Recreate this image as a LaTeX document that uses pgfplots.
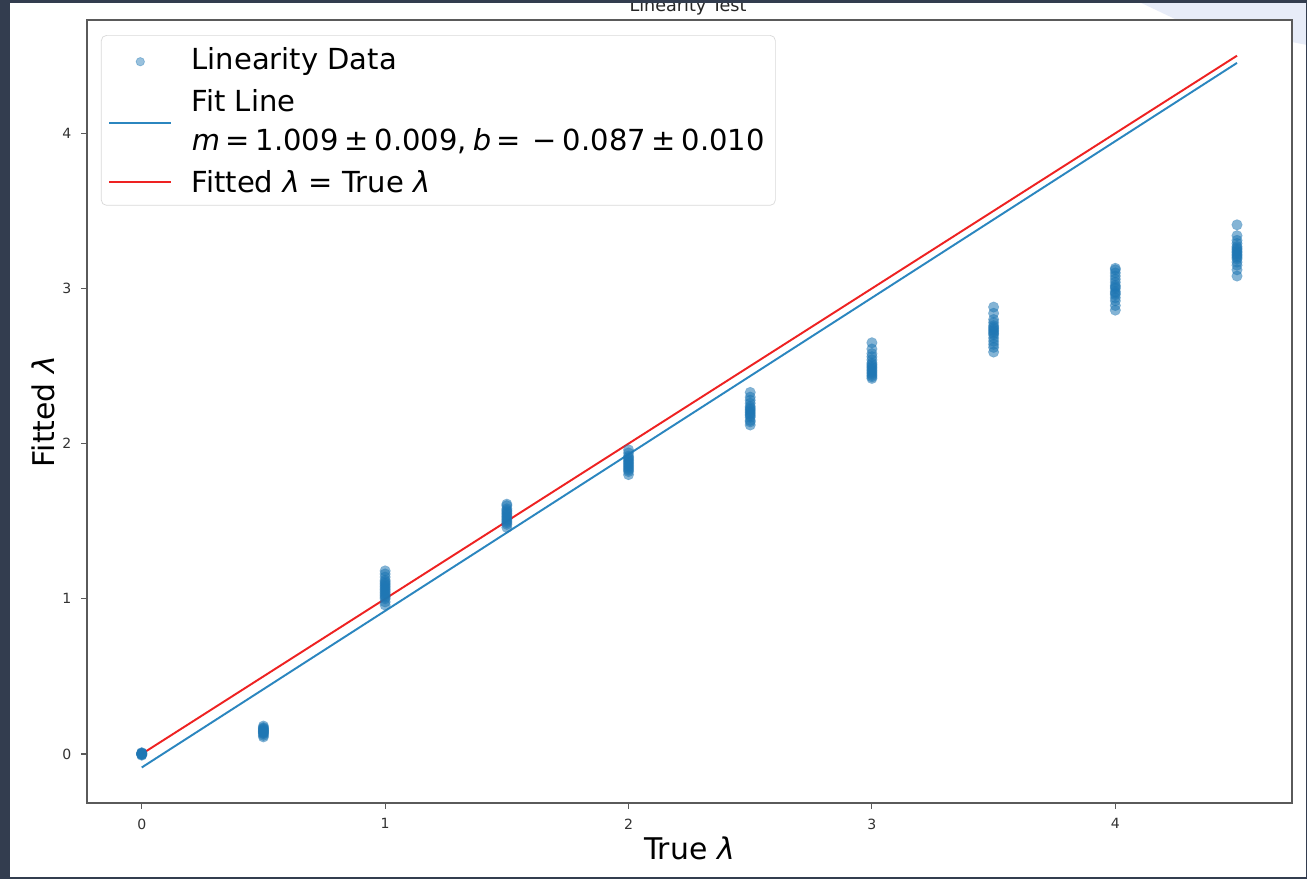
\documentclass[border=0pt]{standalone}
\usepackage{fontspec}
\setmainfont{DejaVu Sans}
\usepackage{pgfplots}
\pgfplotsset{compat=1.18}
\definecolor{frame}{HTML}{333D4F}
\definecolor{paleblue}{HTML}{E7ECF8}
\definecolor{pointblue}{HTML}{1F77B4}
\definecolor{fitblue}{HTML}{2B86BF}
\definecolor{ideal}{HTML}{EE2222}
\definecolor{spine}{HTML}{5A5A5A}
\newcommand\ms{\hspace{0.2em}}

\pgfplotsset{
  longline legend/.style={legend image code/.code={\draw[##1] (0cm,0cm) -- (1.24cm,0cm);}},
  dot legend/.style={legend image code/.code={\draw[##1] plot coordinates {(0.62cm,0cm)};}},
}

% fitted lambda for each true lambda
\pgfplotstableread{
x y
0 0.000
0 0.004
0 -0.004
0 0.008
0 -0.008
0 0.002
0 -0.002
0 0.006
0.5 0.11
0.5 0.12
0.5 0.13
0.5 0.135
0.5 0.14
0.5 0.145
0.5 0.15
0.5 0.155
0.5 0.16
0.5 0.165
0.5 0.17
0.5 0.18
1 0.96
1 0.98
1 1.00
1 1.01
1 1.02
1 1.03
1 1.04
1 1.05
1 1.06
1 1.07
1 1.08
1 1.09
1 1.10
1 1.11
1 1.12
1 1.14
1 1.16
1 1.18
1.5 1.46
1.5 1.48
1.5 1.49
1.5 1.50
1.5 1.51
1.5 1.52
1.5 1.53
1.5 1.54
1.5 1.55
1.5 1.56
1.5 1.57
1.5 1.58
1.5 1.60
1.5 1.61
2 1.80
2 1.82
2 1.83
2 1.84
2 1.85
2 1.86
2 1.87
2 1.88
2 1.89
2 1.90
2 1.91
2 1.92
2 1.94
2 1.96
2.5 2.12
2.5 2.14
2.5 2.15
2.5 2.17
2.5 2.18
2.5 2.19
2.5 2.20
2.5 2.21
2.5 2.22
2.5 2.23
2.5 2.24
2.5 2.26
2.5 2.28
2.5 2.30
2.5 2.33
3 2.42
3 2.43
3 2.44
3 2.45
3 2.46
3 2.47
3 2.48
3 2.49
3 2.50
3 2.51
3 2.52
3 2.54
3 2.56
3 2.58
3 2.61
3 2.65
3.5 2.59
3.5 2.62
3.5 2.64
3.5 2.66
3.5 2.68
3.5 2.70
3.5 2.71
3.5 2.72
3.5 2.73
3.5 2.74
3.5 2.75
3.5 2.76
3.5 2.78
3.5 2.80
3.5 2.84
3.5 2.88
4 2.86
4 2.89
4 2.92
4 2.94
4 2.96
4 2.97
4 2.98
4 3.00
4 3.01
4 3.02
4 3.04
4 3.06
4 3.08
4 3.10
4 3.12
4 3.13
4.5 3.08
4.5 3.12
4.5 3.15
4.5 3.17
4.5 3.19
4.5 3.20
4.5 3.21
4.5 3.22
4.5 3.23
4.5 3.24
4.5 3.25
4.5 3.26
4.5 3.27
4.5 3.29
4.5 3.31
4.5 3.34
4.5 3.41
}\lineardata

\begin{document}
\begin{tikzpicture}[x=0.02cm,y=0.02cm]
\useasboundingbox (0,0) rectangle (1307,879);
\fill[white] (0,0) rectangle (1307,879);
\fill[paleblue] (1135,879) -- (1307,879) -- (1307,834) -- (1175,860) -- cycle;

\begin{axis}[
  at={(1.74cm,1.52cm)}, anchor=south west,
  scale only axis, width=24.1cm, height=15.66cm,
  xmin=-0.225, xmax=4.725, ymin=-0.316, ymax=4.729,
  xtick={0,1,2,3,4}, ytick={0,1,2,3,4},
  tick align=outside, tick pos=left,
  major tick length=0.11cm,
  every tick/.style={spine, line width=0.6pt},
  axis line style={spine, line width=0.9pt},
  axis background/.style={fill=white},
  ticklabel style={font=\fontsize{8}{9}\selectfont, text=black!80},
  /pgf/number format/assume math mode=true,
  xticklabel style={yshift=-0.08cm},
  yticklabel style={xshift=-0.08cm},
  xlabel={True \textit{λ}},
  ylabel={Fitted \textit{λ}},
  label style={font=\fontsize{17}{20}\selectfont},
  xlabel style={yshift=0.1cm},
  ylabel style={yshift=-0.1cm},
  legend cell align=left,
  legend style={at={(0.0116,0.981)}, anchor=north west,
    draw=black!15, rounded corners=3pt, fill=white,
    font=\fontsize{16.5}{22}\selectfont,
    nodes={text depth=},
    inner xsep=4pt, inner ysep=5pt,
    row sep=1pt,
    /tikz/every odd column/.append style={column sep=0.32cm}},
]
% legend entries in display order
\addlegendimage{only marks, mark=*, mark size=2.4pt,
  mark options={draw=pointblue, fill=pointblue, draw opacity=0.4, fill opacity=0.45},
  dot legend}
\addlegendentry{Linearity Data}
\addlegendimage{fitblue, line width=1.1pt, longline legend}
\addlegendentry{\begin{tabular}{@{}l@{}}Fit Line\\\textit{m}\ms=\ms1.009\ms±\ms0.009,\ms\textit{b}\ms=\ms\ms−\ms0.087\ms±\ms0.010\end{tabular}}
\addlegendimage{ideal, line width=1.1pt, longline legend}
\addlegendentry{Fitted \textit{λ} = True \textit{λ}}

% linear fit: m = 1.009, b = -0.087
\addplot[fitblue, line width=1.1pt, forget plot] coordinates {(0,-0.087) (4.5,4.4535)};
% identity line
\addplot[ideal, line width=1.1pt, forget plot] coordinates {(0,0) (4.5,4.5)};
% measurements
\addplot[only marks, mark=*, mark size=3.0pt, forget plot,
  mark options={draw=pointblue, fill=pointblue, draw opacity=0.3, fill opacity=0.55, line width=0.3pt}]
  table[x=x, y=y] {\lineardata};
\end{axis}

\node[anchor=base, font=\fontsize{10}{11}\selectfont, text=black!85] at (688,867) {Linearity Test};
% surrounding window frame
\fill[frame] (0,0) rectangle (10,879);
\fill[frame] (0,876) rectangle (1307,879);
\fill[frame] (0,0) rectangle (1307,2);
\fill[frame] (1306,0) rectangle (1307,879);
\end{tikzpicture}
\end{document}
